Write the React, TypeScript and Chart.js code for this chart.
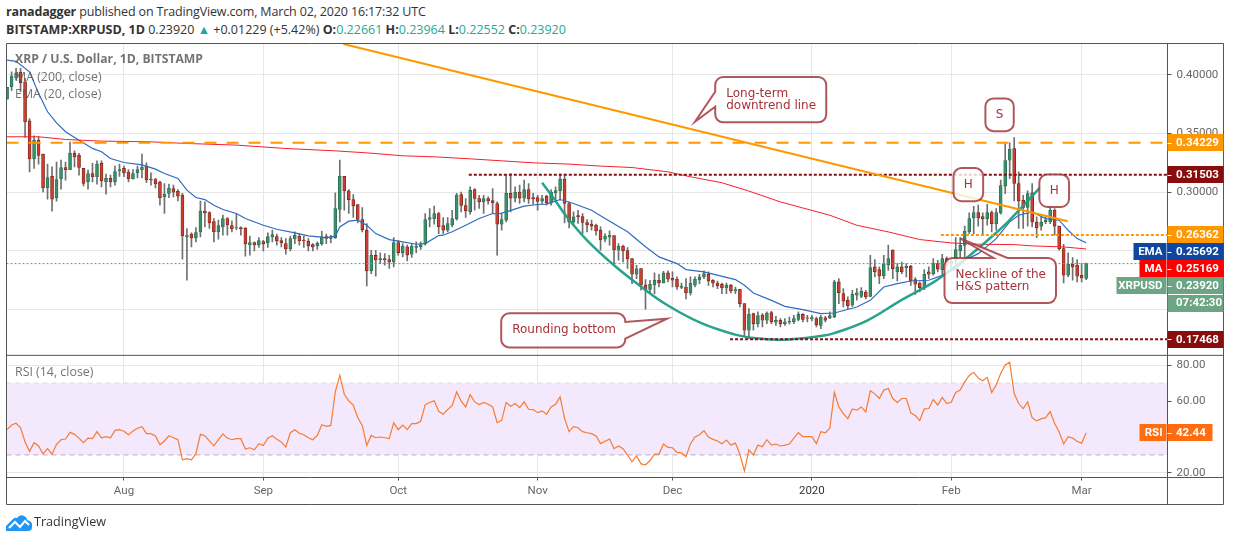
import { useEffect, useRef } from "react";
import { Chart, registerables } from "chart.js";

Chart.register(...registerables);

// one candle per day, index 0 = 6 Jul 2019, index 240 = 2 Mar 2020
const opens = [
    0.3794, 0.3900, 0.3976, 0.4025, 0.3942, 0.3609, 0.3285, 0.3445, 0.3325, 0.3038,
    0.3135, 0.2953, 0.3115, 0.3211, 0.3192, 0.3331, 0.3314, 0.3203, 0.3089, 0.3160,
    0.3132, 0.3246, 0.3089, 0.3118, 0.3089, 0.3183, 0.3203, 0.3172, 0.3115, 0.3166,
    0.3192, 0.3223, 0.3112, 0.3109, 0.3086, 0.2961, 0.2990, 0.3032, 0.3007, 0.2975,
    0.2620, 0.2643, 0.2611, 0.2663, 0.2839, 0.2827, 0.2751, 0.2663, 0.2705, 0.2776,
    0.2717, 0.2697, 0.2700, 0.2694, 0.2552, 0.2572, 0.2552, 0.2580, 0.2569, 0.2620,
    0.2623, 0.2589, 0.2563, 0.2517, 0.2603, 0.2626, 0.2591, 0.2583, 0.2554, 0.2543,
    0.2560, 0.2623, 0.2606, 0.2614, 0.2853, 0.3135, 0.3012, 0.2938, 0.2896, 0.2768,
    0.2677, 0.2330, 0.2463, 0.2424, 0.2435, 0.2426, 0.2407, 0.2572, 0.2486, 0.2535,
    0.2472, 0.2529, 0.2535, 0.2560, 0.2768, 0.2774, 0.2819, 0.2717, 0.2677, 0.2722,
    0.2773, 0.2981, 0.2887, 0.2833, 0.3024, 0.2947, 0.2918, 0.2947, 0.2930, 0.2904,
    0.2728, 0.2762, 0.2990, 0.2950, 0.3001, 0.2950, 0.3024, 0.2955, 0.2955, 0.2924,
    0.2967, 0.2910, 0.2995, 0.3012, 0.3112, 0.2904, 0.2748, 0.2802, 0.2793, 0.2742,
    0.2728, 0.2719, 0.2677, 0.2600, 0.2617, 0.2631, 0.2506, 0.2540, 0.2503, 0.2435,
    0.2301, 0.2350, 0.2208, 0.2173, 0.2210, 0.2250, 0.2227, 0.2313, 0.2267, 0.2259,
    0.2190, 0.2193, 0.2142, 0.2208, 0.2253, 0.2279, 0.2301, 0.2250, 0.2227, 0.2216,
    0.2185, 0.2208, 0.2159, 0.2173, 0.2051, 0.1824, 0.1966, 0.1878, 0.1951, 0.1909,
    0.1974, 0.1892, 0.1909, 0.1880, 0.1892, 0.1895, 0.1917, 0.1960, 0.1929, 0.1923,
    0.1923, 0.1866, 0.1929, 0.1929, 0.1937, 0.2236, 0.2136, 0.2079, 0.2037, 0.2122,
    0.2113, 0.2150, 0.2113, 0.2364, 0.2341, 0.2287, 0.2384, 0.2506, 0.2321, 0.2364,
    0.2358, 0.2369, 0.2256, 0.2227, 0.2184, 0.2321, 0.2307, 0.2392, 0.2341, 0.2435,
    0.2392, 0.2420, 0.2500, 0.2548, 0.2662, 0.2782, 0.2827, 0.2793, 0.2773, 0.2827,
    0.2733, 0.2824, 0.3052, 0.3274, 0.3373, 0.3075, 0.2932, 0.2870, 0.2995, 0.2745,
    0.2712, 0.2748, 0.2748, 0.2847, 0.2711, 0.2520, 0.2293, 0.2386, 0.2378, 0.2293,
    0.22661,
];
const highs = [
    0.3894, 0.4027, 0.4056, 0.4056, 0.3971, 0.3629, 0.3480, 0.3473, 0.3325, 0.3240,
    0.3217, 0.3257, 0.3274, 0.3257, 0.3428, 0.3354, 0.3331, 0.3203, 0.3189, 0.3246,
    0.3268, 0.3268, 0.3155, 0.3146, 0.3223, 0.3240, 0.3223, 0.3194, 0.3194, 0.3223,
    0.3325, 0.3251, 0.3166, 0.3118, 0.3095, 0.3075, 0.3069, 0.3061, 0.3024, 0.2990,
    0.2691, 0.2654, 0.2700, 0.2924, 0.2918, 0.2833, 0.2776, 0.2762, 0.2805, 0.2785,
    0.2756, 0.2813, 0.2705, 0.2700, 0.2626, 0.2577, 0.2614, 0.2591, 0.2654, 0.2677,
    0.2643, 0.2614, 0.2606, 0.2626, 0.2663, 0.2648, 0.2626, 0.2606, 0.2563, 0.2577,
    0.2668, 0.2643, 0.2634, 0.2995, 0.3274, 0.3135, 0.3024, 0.2981, 0.2896, 0.2870,
    0.2734, 0.2506, 0.2506, 0.2483, 0.2478, 0.2463, 0.2614, 0.2591, 0.2563, 0.2549,
    0.2563, 0.2577, 0.2577, 0.2819, 0.2862, 0.2882, 0.2830, 0.2785, 0.2785, 0.2847,
    0.2990, 0.3001, 0.2947, 0.3047, 0.3032, 0.2975, 0.2975, 0.2961, 0.3032, 0.2918,
    0.2819, 0.3146, 0.3160, 0.3047, 0.3061, 0.3103, 0.3075, 0.2990, 0.2973, 0.2975,
    0.2975, 0.3024, 0.3047, 0.3155, 0.3155, 0.2918, 0.2833, 0.2847, 0.2819, 0.2768,
    0.2762, 0.2728, 0.2705, 0.2648, 0.2671, 0.2631, 0.2563, 0.2549, 0.2529, 0.2435,
    0.2378, 0.2350, 0.2256, 0.2250, 0.2313, 0.2301, 0.2327, 0.2330, 0.2321, 0.2279,
    0.2227, 0.2264, 0.2279, 0.2279, 0.2301, 0.2330, 0.2321, 0.2256, 0.2244, 0.2227,
    0.2227, 0.2216, 0.2193, 0.2173, 0.2051, 0.2008, 0.1971, 0.1980, 0.1966, 0.1980,
    0.1986, 0.1943, 0.1923, 0.1923, 0.1937, 0.1951, 0.1980, 0.1966, 0.1951, 0.1951,
    0.1937, 0.1951, 0.1943, 0.1980, 0.2250, 0.2264, 0.2179, 0.2108, 0.2165, 0.2179,
    0.2187, 0.2165, 0.2463, 0.2426, 0.2364, 0.2463, 0.2549, 0.2512, 0.2392, 0.2406,
    0.2392, 0.2378, 0.2273, 0.2236, 0.2341, 0.2364, 0.2435, 0.2420, 0.2472, 0.2449,
    0.2435, 0.2614, 0.2614, 0.2711, 0.2824, 0.2881, 0.2890, 0.2824, 0.2898, 0.2841,
    0.2861, 0.3103, 0.3416, 0.3422, 0.3467, 0.3174, 0.2975, 0.3012, 0.3075, 0.2790,
    0.2790, 0.2790, 0.2870, 0.2861, 0.2711, 0.2557, 0.2483, 0.2443, 0.2426, 0.2392,
    0.23964,
];
const lows = [
    0.3794, 0.3865, 0.3956, 0.3857, 0.3467, 0.3174, 0.3203, 0.3240, 0.3004, 0.2941,
    0.2839, 0.2924, 0.3027, 0.3103, 0.3192, 0.3217, 0.3146, 0.3055, 0.3027, 0.3089,
    0.3069, 0.3046, 0.2984, 0.3046, 0.3061, 0.3135, 0.3132, 0.3089, 0.3112, 0.3123,
    0.3123, 0.3081, 0.3061, 0.3038, 0.2890, 0.2819, 0.2953, 0.2961, 0.2927, 0.2429,
    0.2250, 0.2535, 0.2577, 0.2620, 0.2705, 0.2691, 0.2577, 0.2600, 0.2634, 0.2634,
    0.2663, 0.2682, 0.2634, 0.2455, 0.2463, 0.2500, 0.2529, 0.2500, 0.2529, 0.2577,
    0.2549, 0.2535, 0.2472, 0.2500, 0.2563, 0.2549, 0.2529, 0.2500, 0.2500, 0.2512,
    0.2549, 0.2563, 0.2569, 0.2606, 0.2748, 0.2847, 0.2819, 0.2785, 0.2739, 0.2663,
    0.2202, 0.2307, 0.2284, 0.2392, 0.2378, 0.2350, 0.2364, 0.2463, 0.2449, 0.2415,
    0.2444, 0.2483, 0.2512, 0.2549, 0.2705, 0.2728, 0.2648, 0.2648, 0.2663, 0.2705,
    0.2762, 0.2833, 0.2785, 0.2813, 0.2847, 0.2862, 0.2819, 0.2899, 0.2819, 0.2463,
    0.2677, 0.2748, 0.2833, 0.2918, 0.2904, 0.2918, 0.2904, 0.2899, 0.2847, 0.2904,
    0.2890, 0.2890, 0.2918, 0.2933, 0.2739, 0.2697, 0.2719, 0.2734, 0.2648, 0.2663,
    0.2677, 0.2634, 0.2506, 0.2577, 0.2549, 0.2392, 0.2421, 0.2407, 0.2350, 0.2222,
    0.2264, 0.2165, 0.2003, 0.2136, 0.2136, 0.2193, 0.2227, 0.2236, 0.2193, 0.2173,
    0.2179, 0.2091, 0.2122, 0.2193, 0.2222, 0.2264, 0.2207, 0.2193, 0.2179, 0.2136,
    0.2136, 0.2142, 0.2136, 0.2023, 0.1772, 0.1752, 0.1824, 0.1852, 0.1852, 0.1880,
    0.1880, 0.1866, 0.1852, 0.1866, 0.1875, 0.1880, 0.1903, 0.1895, 0.1895, 0.1903,
    0.1852, 0.1837, 0.1894, 0.1923, 0.1931, 0.2051, 0.2022, 0.2008, 0.2028, 0.2080,
    0.2102, 0.2090, 0.2108, 0.2279, 0.2222, 0.2264, 0.2335, 0.2264, 0.2244, 0.2307,
    0.2278, 0.2207, 0.2130, 0.2150, 0.2170, 0.2264, 0.2293, 0.2321, 0.2279, 0.2364,
    0.2350, 0.2364, 0.2449, 0.2449, 0.2648, 0.2648, 0.2711, 0.2634, 0.2719, 0.2662,
    0.2676, 0.2813, 0.2989, 0.3117, 0.2927, 0.2691, 0.2691, 0.2711, 0.2705, 0.2614,
    0.2677, 0.2733, 0.2733, 0.2634, 0.2506, 0.2227, 0.2278, 0.2250, 0.2236, 0.2236,
    0.22552,
];
const closes = [
    0.3894, 0.3991, 0.4019, 0.3934, 0.3601, 0.3285, 0.3445, 0.3314, 0.3038, 0.3126,
    0.2941, 0.3109, 0.3211, 0.3192, 0.3331, 0.3302, 0.3211, 0.3075, 0.3160, 0.3132,
    0.3240, 0.3098, 0.3118, 0.3089, 0.3177, 0.3194, 0.3166, 0.3115, 0.3160, 0.3194,
    0.3214, 0.3106, 0.3106, 0.3072, 0.2953, 0.2984, 0.3035, 0.3001, 0.2967, 0.2628,
    0.2631, 0.2611, 0.2657, 0.2839, 0.2825, 0.2739, 0.2663, 0.2717, 0.2776, 0.2722,
    0.2688, 0.2700, 0.2688, 0.2560, 0.2572, 0.2552, 0.2589, 0.2560, 0.2623, 0.2640,
    0.2586, 0.2569, 0.2517, 0.2606, 0.2634, 0.2586, 0.2586, 0.2543, 0.2534, 0.2566,
    0.2620, 0.2606, 0.2617, 0.2862, 0.3135, 0.3012, 0.2938, 0.2884, 0.2768, 0.2682,
    0.2330, 0.2463, 0.2424, 0.2435, 0.2424, 0.2407, 0.2572, 0.2486, 0.2540, 0.2466,
    0.2540, 0.2540, 0.2554, 0.2768, 0.2785, 0.2819, 0.2705, 0.2677, 0.2734, 0.2776,
    0.2975, 0.2887, 0.2842, 0.3018, 0.2947, 0.2918, 0.2947, 0.2927, 0.2910, 0.2728,
    0.2768, 0.2990, 0.2950, 0.3001, 0.2950, 0.3024, 0.2944, 0.2944, 0.2921, 0.2947,
    0.2910, 0.3001, 0.3015, 0.3112, 0.2904, 0.2748, 0.2790, 0.2790, 0.2742, 0.2722,
    0.2711, 0.2671, 0.2594, 0.2626, 0.2634, 0.2509, 0.2540, 0.2500, 0.2432, 0.2301,
    0.2347, 0.2208, 0.2173, 0.2216, 0.2250, 0.2230, 0.2313, 0.2259, 0.2250, 0.2193,
    0.2199, 0.2142, 0.2224, 0.2259, 0.2279, 0.2307, 0.2244, 0.2227, 0.2202, 0.2185,
    0.2208, 0.2159, 0.2170, 0.2051, 0.1824, 0.1960, 0.1880, 0.1949, 0.1909, 0.1971,
    0.1895, 0.1909, 0.1878, 0.1895, 0.1903, 0.1923, 0.1960, 0.1917, 0.1926, 0.1932,
    0.1872, 0.1937, 0.1909, 0.1948, 0.2236, 0.2145, 0.2071, 0.2031, 0.2130, 0.2142,
    0.2156, 0.2108, 0.2358, 0.2321, 0.2287, 0.2392, 0.2435, 0.2349, 0.2364, 0.2321,
    0.2369, 0.2244, 0.2216, 0.2187, 0.2301, 0.2301, 0.2392, 0.2344, 0.2435, 0.2398,
    0.2412, 0.2511, 0.2548, 0.2668, 0.2776, 0.2827, 0.2782, 0.2773, 0.2827, 0.2733,
    0.2827, 0.3058, 0.3271, 0.3365, 0.3075, 0.2927, 0.2870, 0.2989, 0.2748, 0.2699,
    0.2743, 0.2762, 0.2847, 0.2711, 0.2520, 0.2293, 0.2386, 0.2364, 0.2284, 0.2270,
    0.2392,
];
const rsiValues = [
    44.1, 46.7, 47.7, 45.2, 37.2, 32.0, 36.8, 35.0, 30.7, 33.5,
    30.5, 35.9, 38.5, 38.9, 42.6, 41.5, 39.4, 36.8, 39.4, 39.1,
    43.0, 39.6, 40.2, 39.6, 43.7, 44.1, 43.2, 41.3, 43.4, 44.9,
    45.8, 41.9, 41.9, 40.6, 35.7, 37.8, 40.7, 39.6, 38.5, 27.3,
    27.9, 27.3, 30.7, 41.5, 40.7, 37.8, 35.1, 38.5, 41.7, 39.4,
    38.5, 39.1, 39.1, 33.3, 34.0, 32.9, 36.3, 35.3, 39.4, 40.7,
    38.7, 37.2, 34.4, 42.4, 44.1, 42.1, 41.3, 39.6, 38.5, 40.9,
    46.9, 46.0, 46.5, 65.2, 74.4, 63.9, 60.2, 57.8, 50.8, 46.5,
    35.3, 40.9, 39.6, 40.0, 39.6, 39.1, 48.0, 44.1, 46.7, 44.1,
    47.5, 47.5, 48.8, 58.1, 59.3, 60.2, 54.4, 52.7, 55.3, 57.6,
    65.2, 60.0, 56.8, 63.7, 59.6, 58.1, 59.3, 58.3, 56.8, 48.0,
    49.3, 59.3, 57.2, 58.7, 56.4, 59.6, 55.5, 55.3, 53.6, 54.6,
    52.7, 56.8, 58.3, 62.4, 50.3, 43.0, 45.8, 45.2, 43.0, 42.4,
    41.9, 40.6, 36.3, 37.6, 38.9, 33.5, 35.0, 33.5, 29.9, 26.2,
    29.5, 25.0, 24.5, 26.9, 30.5, 30.5, 36.1, 34.2, 34.0, 31.4,
    31.2, 29.0, 36.3, 40.0, 41.3, 43.6, 40.0, 38.7, 37.8, 36.3,
    38.3, 35.5, 36.6, 30.3, 21.1, 32.9, 29.9, 35.5, 34.6, 38.5,
    35.5, 36.1, 35.0, 35.5, 36.1, 39.4, 42.4, 40.2, 40.2, 40.2,
    36.3, 43.0, 42.4, 45.0, 64.9, 56.8, 53.1, 50.3, 55.7, 55.0,
    56.8, 54.0, 65.8, 64.1, 61.5, 66.2, 67.1, 61.5, 59.3, 61.5,
    61.5, 53.5, 52.0, 49.2, 55.7, 55.9, 60.9, 57.8, 62.1, 58.7,
    59.4, 64.9, 66.2, 70.8, 74.4, 76.1, 72.9, 71.4, 73.3, 64.9,
    69.0, 75.5, 80.2, 81.7, 64.3, 58.7, 55.9, 59.6, 50.7, 49.0,
    50.1, 50.8, 54.2, 47.5, 42.8, 36.1, 40.2, 39.4, 37.6, 36.6,
    42.44,
];

// moving averages, read at the days where the curve bends
const emaDays = [
    0, 2, 5, 7, 9, 11, 13, 16, 19, 21, 23, 26, 30, 33, 35, 38, 40, 42, 44, 46, 48, 51, 53, 57, 60, 64, 67, 71,
    73, 74, 76, 78, 80, 82, 85, 88, 91, 93, 96, 97, 99, 102, 105, 108, 109, 111, 115, 118, 120, 123, 126, 130,
    133, 138, 142, 145, 149, 151, 155, 162, 164, 166, 170, 173, 177, 181, 184, 189, 192, 195, 198, 201, 205,
    208, 211, 213, 216, 220, 223, 225, 228, 231, 234, 236, 238, 240,
];
const emaValues = [
    0.4127, 0.4116, 0.4027, 0.3843, 0.3686, 0.3592, 0.3516, 0.3444, 0.3374, 0.3345, 0.3288, 0.3254, 0.3234,
    0.3197, 0.3160, 0.3118, 0.3018, 0.2955, 0.2938, 0.2890, 0.2853, 0.2819, 0.2776, 0.2719, 0.2685, 0.2654,
    0.2628, 0.2614, 0.2626, 0.2705, 0.2754, 0.2762, 0.2719, 0.2648, 0.2597, 0.2577, 0.2557, 0.2563, 0.2631,
    0.2634, 0.2663, 0.2719, 0.2776, 0.2819, 0.2813, 0.2833, 0.2882, 0.2896, 0.2899, 0.2938, 0.2904, 0.2847,
    0.2776, 0.2663, 0.2535, 0.2449, 0.2392, 0.2341, 0.2321, 0.2256, 0.2208, 0.2142, 0.2079, 0.2028, 0.2000,
    0.1965, 0.1971, 0.2022, 0.2079, 0.2193, 0.2221, 0.2244, 0.2250, 0.2292, 0.2349, 0.2420, 0.2477, 0.2605,
    0.2748, 0.2804, 0.2833, 0.2776, 0.2762, 0.2676, 0.2605, 0.25692,
];
const maDays = [
    0, 7, 13, 21, 32, 40, 51, 62, 73, 80, 88, 95, 103, 110, 117, 125, 132, 139, 147, 152, 159, 165, 172, 183,
    189, 196, 203, 210, 216, 224, 228, 235, 240,
];
const maValues = [
    0.3473, 0.3473, 0.3450, 0.3436, 0.3430, 0.3416, 0.3402, 0.3373, 0.3353, 0.3336, 0.3311, 0.3302, 0.3285,
    0.3268, 0.3251, 0.3240, 0.3223, 0.3211, 0.3174, 0.3132, 0.3081, 0.3010, 0.2918, 0.2804, 0.2719, 0.2662,
    0.2597, 0.2568, 0.2557, 0.2554, 0.2543, 0.2534, 0.25169,
];

// drawn lines
const downtrendDays = [74.8, 235.9];
const downtrendPrices = [0.4264, 0.2753];
const roundingDays = [
    119.0, 121.6, 124.6, 129.0, 135.0, 140.9, 146.9, 154.3, 161.7, 166.1, 172.1, 181.0, 184.0, 191.4, 198.8,
    206.2, 209.9, 213.7, 218.1, 222.6, 229.8,
];
const roundingPrices = [
    0.3081, 0.2947, 0.2785, 0.2591, 0.2378, 0.2199, 0.2037, 0.1886, 0.1789, 0.1758, 0.1744, 0.1775, 0.1800,
    0.1909, 0.2079, 0.2236, 0.2340, 0.2449, 0.2591, 0.2748, 0.3041,
];
const resistanceHigh = 0.34229;
const resistanceMid = 0.31503;
const neckline = 0.26362;
const support = 0.17468;
const lastClose = 0.2392;
const lastMa = 0.25169;
const lastEma = 0.25692;
const lastRsi = 42.44;

const monthDays = [26, 57, 87, 118, 148, 179, 210, 239];
const monthLabels = ["Aug", "Sep", "Oct", "Nov", "Dec", "2020", "Feb", "Mar"];
const priceTicks = [0.4, 0.35, 0.3, 0.25, 0.2];
const rsiTicks = [80, 60, 40, 20];

const xMin = -0.13;
const xMax = 258.1;

const callouts = [
    { lines: ["Long-term", "downtrend line"], left: 157.5, right: 182.2, top: 0.3982, bottom: 0.3596, tip: [153.0, 0.3601], edge: "left", base: [0.3857, 0.3729] },
    { lines: ["Rounding bottom"], left: 109.9, right: 137.5, top: 0.1968, bottom: 0.1678, tip: [146.8, 0.1923], edge: "right", base: [0.1894, 0.1753] },
    { lines: ["S"], left: 217.6, right: 223.9, top: 0.38, bottom: 0.3521, center: true },
    { lines: ["H"], left: 210.5, right: 217.1, top: 0.3206, bottom: 0.2924, center: true },
    { lines: ["H"], left: 229.6, right: 236.2, top: 0.3152, bottom: 0.2875, center: true },
    { lines: ["Neckline of the", "H&S pattern"], left: 208.5, right: 233.3, top: 0.244, bottom: 0.2056, tip: [212.0, 0.2606], edge: "top", base: [219.4, 222.5] },
];

const UI_FONT = '"Open Sans", sans-serif';
const AXIS_FONT = "Roboto, sans-serif";
const GRID = "#e6e6e6";
const FRAME = "#555555";

const points = (days: number[], values: number[]) => days.map((x, i) => ({ x, y: values[i] }));
const level = (from: number, y: number) => [{ x: from, y }, { x: xMax, y }];

function drawCallout(ctx: CanvasRenderingContext2D, chart: any, c: any) {
    const x = chart.scales.x;
    const y = chart.scales.y;
    const l = x.getPixelForValue(c.left);
    const r = x.getPixelForValue(c.right);
    const t = y.getPixelForValue(c.top);
    const b = y.getPixelForValue(c.bottom);
    const rad = 8;

    ctx.beginPath();
    ctx.moveTo(l + rad, t);
    if (c.edge === "top") {
        ctx.lineTo(x.getPixelForValue(c.base[0]), t);
        ctx.lineTo(x.getPixelForValue(c.tip[0]), y.getPixelForValue(c.tip[1]));
        ctx.lineTo(x.getPixelForValue(c.base[1]), t);
    }
    ctx.arcTo(r, t, r, t + rad, rad);
    if (c.edge === "right") {
        ctx.lineTo(r, y.getPixelForValue(c.base[0]));
        ctx.lineTo(x.getPixelForValue(c.tip[0]), y.getPixelForValue(c.tip[1]));
        ctx.lineTo(r, y.getPixelForValue(c.base[1]));
    }
    ctx.arcTo(r, b, r - rad, b, rad);
    ctx.arcTo(l, b, l, b - rad, rad);
    if (c.edge === "left") {
        ctx.lineTo(l, y.getPixelForValue(c.base[1]));
        ctx.lineTo(x.getPixelForValue(c.tip[0]), y.getPixelForValue(c.tip[1]));
        ctx.lineTo(l, y.getPixelForValue(c.base[0]));
    }
    ctx.arcTo(l, t, l + rad, t, rad);
    ctx.closePath();
    ctx.fillStyle = "rgba(255,255,255,0.8)";
    ctx.fill();
    ctx.strokeStyle = "rgba(155,45,50,0.8)";
    ctx.lineWidth = 2;
    ctx.stroke();

    ctx.fillStyle = "#a83238";
    ctx.font = '12px "DejaVu Sans", sans-serif';
    ctx.textBaseline = "middle";
    ctx.textAlign = c.center ? "center" : "left";
    const tx = c.center ? (l + r) / 2 : l + 11;
    const mid = (t + b) / 2;
    c.lines.forEach((line: string, i: number) => {
        ctx.fillText(line, tx, mid + (i - (c.lines.length - 1) / 2) * 11.8);
    });
}

const overlayPlugin = {
    id: "overlay",
    afterDraw(chart: any) {
        const { ctx, chartArea, scales } = chart;
        const { left, right, top, bottom } = chartArea;
        const axisRight = right + 56;
        const sep = scales.rsi.top;
        const frameBottom = bottom + 27;

        ctx.save();

        // pane legends
        ctx.textAlign = "left";
        ctx.textBaseline = "middle";
        ctx.fillStyle = "rgba(90,90,90,0.85)";
        ctx.font = `bold 12.2px ${UI_FONT}`;
        ctx.fillText("XRP / U.S. Dollar, 1D, BITSTAMP", 15, 60);
        ctx.font = `12.4px ${UI_FONT}`;
        ctx.fillText("MA (200, close)", 15, 77);
        ctx.fillText("EMA (20, close)", 15, 94);
        ctx.fillText("RSI (14, close)", 15, 372);

        callouts.forEach((c) => drawCallout(ctx, chart, c));

        // frame
        ctx.strokeStyle = FRAME;
        ctx.lineWidth = 1;
        ctx.beginPath();
        ctx.rect(left, top, axisRight - left, frameBottom - top);
        ctx.moveTo(left, sep);
        ctx.lineTo(axisRight, sep);
        ctx.moveTo(left, bottom);
        ctx.lineTo(axisRight, bottom);
        ctx.moveTo(right, top);
        ctx.lineTo(right, frameBottom);
        ctx.stroke();

        // value tags on the price axis
        const tag = (cy: number, text: string, color: string, tagRight = axisRight) => {
            ctx.fillStyle = color;
            ctx.fillRect(right, Math.round(cy - 8.5), tagRight - right, 17);
            ctx.fillStyle = "#fff";
            ctx.fillRect(right, Math.round(cy), 4, 1);
            ctx.font = `bold 11.5px ${AXIS_FONT}`;
            ctx.textAlign = "left";
            ctx.textBaseline = "middle";
            ctx.fillText(text, right + 8.5, cy + 0.5);
        };
        const sideTag = (cy: number, text: string, color: string, width: number) => {
            ctx.fillStyle = color;
            ctx.fillRect(right - width, Math.round(cy - 8.5), width - 1, 17);
            ctx.fillStyle = "#fff";
            ctx.font = `bold 11.5px ${AXIS_FONT}`;
            ctx.textAlign = "right";
            ctx.textBaseline = "middle";
            ctx.fillText(text, right - 5, cy + 0.5);
        };
        const py = (v: number) => scales.y.getPixelForValue(v);
        tag(py(resistanceHigh), resistanceHigh.toFixed(5), "#ff9800");
        tag(py(resistanceMid), resistanceMid.toFixed(5), "#880e0e");
        tag(py(neckline), neckline.toFixed(5), "#ff9800");
        tag(py(support), support.toFixed(5), "#880e0e");
        // the last three tags are stacked under each other, not on their own prices
        sideTag(251.5, "EMA", "#0d47a1", 34);
        tag(251.5, lastEma.toFixed(5), "#0d47a1");
        sideTag(268.5, "MA", "#ff0000", 28);
        tag(268.5, lastMa.toFixed(5), "#ff0000");
        sideTag(285.5, "XRPUSD", "#6ca584", 51);
        tag(285.5, lastClose.toFixed(5), "#6ca584");
        ctx.fillStyle = "#6ca584";
        ctx.fillRect(right, 295, axisRight - right, 17);
        ctx.fillStyle = "#fff";
        ctx.textAlign = "left";
        ctx.font = `bold 11.5px ${AXIS_FONT}`;
        ctx.fillText("07:42:30", right + 8.5, 303.5);

        const ry = scales.rsi.getPixelForValue(lastRsi);
        sideTag(ry, "RSI", "#ff6d0f", 28);
        tag(ry, lastRsi.toFixed(2), "#ff6d0f", right + 45);

        ctx.restore();
    },
};

export default function App() {
    const canvasRef = useRef<HTMLCanvasElement>(null);

    useEffect(() => {
        if (!canvasRef.current) return;

        const days = closes.map((_, i) => i);
        const up = "#38906a";
        const down = "#cf3d2e";
        const upEdge = "#2a6b4d";
        const downEdge = "#6e241a";
        const isUp = (i: number) => closes[i] >= opens[i];

        const chart = new Chart(canvasRef.current, {
            type: "bar",
            plugins: [overlayPlugin],
            data: {
                datasets: [
                    {
                        type: "line", data: level(xMin, 30) as any, yAxisID: "rsi", order: 9,
                        borderColor: "#b9aec6", borderWidth: 1, borderDash: [5, 4], pointRadius: 0,
                        fill: "+1", backgroundColor: "#f4e8fd",
                    },
                    {
                        type: "line", data: level(xMin, 70) as any, yAxisID: "rsi", order: 9,
                        borderColor: "#b9aec6", borderWidth: 1, borderDash: [5, 4], pointRadius: 0,
                    },
                    {
                        type: "line", data: points(days, rsiValues) as any, yAxisID: "rsi", order: 1,
                        borderColor: "#f57c30", borderWidth: 1.2, pointRadius: 0, tension: 0,
                    },
                    {
                        type: "bar", data: days.map((x) => ({ x, y: [lows[x], highs[x]] })) as any, yAxisID: "y", order: 8,
                        backgroundColor: "#707070", barThickness: 1, grouped: false,
                    },
                    {
                        type: "bar", data: days.map((x) => ({ x, y: [opens[x], closes[x]] })) as any, yAxisID: "y", order: 7,
                        backgroundColor: days.map((i) => (isUp(i) ? up : down)),
                        borderColor: days.map((i) => (isUp(i) ? upEdge : downEdge)),
                        borderWidth: 0.7, borderSkipped: false, barThickness: 3, grouped: false,
                    },
                    {
                        type: "line", data: level(xMin, lastClose) as any, yAxisID: "y", order: 6,
                        borderColor: "#5e9e78", borderWidth: 1, borderDash: [2, 2], pointRadius: 0,
                    },
                    {
                        type: "line", data: points(maDays, maValues) as any, yAxisID: "y", order: 5,
                        borderColor: "#f6202c", borderWidth: 1, pointRadius: 0,
                    },
                    {
                        type: "line", data: points(emaDays, emaValues) as any, yAxisID: "y", order: 5,
                        borderColor: "#2f6bc0", borderWidth: 1.2, pointRadius: 0,
                    },
                    {
                        type: "line", data: points(roundingDays, roundingPrices) as any, yAxisID: "y", order: 4,
                        borderColor: "rgba(28,158,134,0.95)", borderWidth: 2.5, pointRadius: 0, tension: 0.4,
                    },
                    {
                        type: "line", data: points(downtrendDays, downtrendPrices) as any, yAxisID: "y", order: 3,
                        borderColor: "#ff9800", borderWidth: 2, pointRadius: 0,
                    },
                    {
                        type: "line", data: level(xMin, resistanceHigh) as any, yAxisID: "y", order: 3,
                        borderColor: "#ff9800", borderWidth: 2, borderDash: [12, 10], pointRadius: 0,
                    },
                    {
                        type: "line", data: level(102.7, resistanceMid) as any, yAxisID: "y", order: 3,
                        borderColor: "#880e0e", borderWidth: 2, borderDash: [3, 2], pointRadius: 0,
                    },
                    {
                        type: "line", data: level(207.7, neckline) as any, yAxisID: "y", order: 3,
                        borderColor: "#ff9800", borderWidth: 2, borderDash: [3, 2], pointRadius: 0,
                    },
                    {
                        type: "line", data: level(160.8, support) as any, yAxisID: "y", order: 3,
                        borderColor: "#880e0e", borderWidth: 2, borderDash: [3, 2], pointRadius: 0,
                    },
                ],
            },
            options: {
                responsive: false,
                animation: false,
                events: [],
                layout: { padding: { left: 6.5, top: 43.5, right: 10.5, bottom: 36.5 } },
                plugins: { legend: { display: false }, tooltip: { enabled: false }, title: { display: false } },
                scales: {
                    x: {
                        type: "linear",
                        offset: false,
                        min: xMin,
                        max: xMax,
                        afterFit: (s: any) => { s.height = 27; },
                        afterBuildTicks: (s: any) => { s.ticks = monthDays.map((value) => ({ value })); },
                        grid: { color: GRID, offset: false, tickLength: 3, tickColor: FRAME },
                        border: { display: false },
                        ticks: {
                            autoSkip: false,
                            maxRotation: 0,
                            padding: 4,
                            color: (c: any) => (c.tick?.value === 179 ? "#333" : "#666"),
                            font: { family: AXIS_FONT, size: 11.5 },
                            callback: (v: any) => monthLabels[monthDays.indexOf(v)],
                        },
                    },
                    y: {
                        type: "linear",
                        position: "right",
                        stack: "panes",
                        stackWeight: 311.5,
                        min: 0.161,
                        max: 0.4268,
                        afterFit: (s: any) => { s.width = 56; },
                        afterBuildTicks: (s: any) => { s.ticks = priceTicks.map((value) => ({ value })); },
                        grid: { color: GRID, tickLength: 4, tickColor: FRAME },
                        border: { display: false },
                        ticks: {
                            autoSkip: false, padding: 5, color: "#666",
                            font: { family: AXIS_FONT, size: 11.5 },
                            callback: (v: any) => Number(v).toFixed(5),
                        },
                    },
                    rsi: {
                        type: "linear",
                        position: "right",
                        stack: "panes",
                        stackWeight: 122,
                        min: 17.4,
                        max: 85.6,
                        afterFit: (s: any) => { s.width = 56; },
                        afterBuildTicks: (s: any) => { s.ticks = rsiTicks.map((value) => ({ value })); },
                        grid: { color: GRID, tickLength: 4, tickColor: FRAME },
                        border: { display: false },
                        ticks: {
                            autoSkip: false, padding: 5, color: "#666",
                            font: { family: AXIS_FONT, size: 11.5 },
                            callback: (v: any) => Number(v).toFixed(2),
                        },
                    },
                },
            } as any,
        });

        return () => {
            chart.destroy();
        };
    }, []);

    const teal = { color: "#26a69a" };
    const rowStyle: React.CSSProperties = {
        position: "absolute", left: 6, whiteSpace: "nowrap", font: `12.5px ${UI_FONT}`, color: "#333", lineHeight: "18px",
    };

    return (
        <div style={{ position: "fixed", left: 0, top: 0, width: 1234, height: 541, background: "#fff" }}>
            <div style={{ ...rowStyle, top: 3, letterSpacing: -0.15 }}>
                <b>ranadagger</b> published on TradingView.com, March 02, 2020 16:17:32 UTC
            </div>
            <div style={{ ...rowStyle, top: 21 }}>
                <b>BITSTAMP:XRPUSD, 1D</b> 0.23920 <span style={teal}>▲</span> +0.01229 (+5.42%){" "}
                <b>O:</b><span style={teal}>0.22661</span> <b>H:</b><span style={teal}>0.23964</span>{" "}
                <b>L:</b><span style={teal}>0.22552</span> <b>C:</b><span style={teal}>0.23920</span>
            </div>
            <canvas ref={canvasRef} width={1234} height={541} style={{ position: "absolute", left: 0, top: 0 }} />
            <svg width="27" height="16" viewBox="0 0 27 16" style={{ position: "absolute", left: 6, top: 515 }}>
                <path d="M0 16 V11 L7 4 Q9 2 11 3 Q14 -1 18 1 Q21 2 21 5 Q27 6 26 12 Q26 16 22 16 Z" fill="#2196f3" />
                <path d="M3 13 L9 7 L14 12 L19 6 L23 10" fill="none" stroke="#fff" strokeWidth="2" />
            </svg>
            <div style={{ position: "absolute", left: 34, top: 513, font: `12.6px ${UI_FONT}`, color: "#333", lineHeight: "18px" }}>
                TradingView
            </div>
        </div>
    );
}
